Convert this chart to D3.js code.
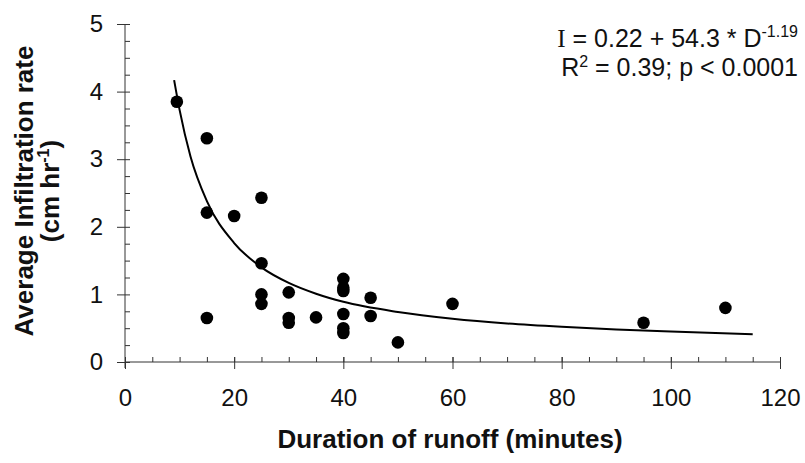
<!DOCTYPE html>
<html lang="en">
<head>
  <meta charset="utf-8">
  <title>Infiltration rate vs duration of runoff</title>
  <script src="https://d3js.org/d3.v7.min.js"></script>
  <style>
    body {
      margin: 0;
      padding: 0;
      background: #fff;
    }
    svg {
      display: block;
      font-family: "Liberation Sans", Arial, Helvetica, sans-serif;
    }
    .tick-label {
      font-size: 24px;
      fill: #111;
    }
    .axis-title {
      font-size: 26px;
      font-weight: bold;
      fill: #111;
    }
    .equation {
      font-size: 25px;
      fill: #111;
    }
  </style>
</head>
<body>
  <div id="chart"></div>
  <script>
    // Observed runoff events (duration in minutes, infiltration in cm/hr)
    const durations = [9.5, 15, 15, 15, 20, 25, 25, 25, 25, 30, 30, 30, 35, 40, 40, 40, 40, 40, 40, 45, 45, 50, 60, 95, 110];
    const rates     = [3.85, 3.31, 2.21, 0.65, 2.16, 2.43, 1.46, 1.00, 0.86, 1.03, 0.65, 0.58, 0.66, 1.23, 1.10, 1.05, 0.71, 0.50, 0.43, 0.95, 0.68, 0.29, 0.86, 0.58, 0.80];

    // Fitted curve
    const fitDurations = [9, 10, 12, 15, 20, 25, 30, 35, 40, 50, 60, 70, 80, 90, 100, 115];
    const fitRates     = [4.17, 3.73, 3.04, 2.38, 1.76, 1.40, 1.17, 1.01, 0.89, 0.74, 0.64, 0.57, 0.52, 0.48, 0.45, 0.41];

    // Axis ticks
    const xMajor = [0, 20, 40, 60, 80, 100, 120];
    const xMinor = d3.range(0, 121, 5);
    const yMajor = [0, 1, 2, 3, 4, 5];
    const yMinor = d3.range(0, 5.01, 0.25);

    const width = 805, height = 463;
    const margin = { top: 24, right: 25, bottom: 101, left: 125 };

    const svg = d3.select("#chart")
      .append("svg")
      .attr("width", width)
      .attr("height", height);

    svg.append("rect")
      .attr("width", width)
      .attr("height", height)
      .attr("fill", "#fff");

    const x = d3.scaleLinear()
      .domain([0, 120])
      .range([margin.left, width - margin.right]);

    const y = d3.scaleLinear()
      .domain([0, 5])
      .range([height - margin.bottom, margin.top]);

    const axisColor = "#333";

    // X axis: minor ticks point up, major ticks cross the line
    svg.append("g")
      .attr("transform", `translate(0,${y(0)})`)
      .call(d3.axisTop(x).tickValues(xMinor).tickSize(5).tickFormat(""))
      .call(g => g.select(".domain").remove())
      .selectAll("line").attr("stroke", axisColor);

    const xAxis = svg.append("g")
      .attr("transform", `translate(0,${y(0)})`)
      .call(d3.axisBottom(x).tickValues(xMajor).tickSize(7).tickPadding(20).tickFormat(d3.format("d")));
    xAxis.select(".domain").attr("stroke", axisColor).attr("d", `M${x(0)},0H${x(120)}`);
    xAxis.selectAll(".tick line").attr("y1", -5).attr("stroke", axisColor);
    xAxis.selectAll(".tick text")
      .attr("class", "tick-label")
      .attr("font-family", null)
      .attr("font-size", null);

    // Y axis: minor ticks point right, major ticks point left
    svg.append("g")
      .attr("transform", `translate(${x(0)},0)`)
      .call(d3.axisRight(y).tickValues(yMinor).tickSize(5).tickFormat(""))
      .call(g => g.select(".domain").remove())
      .selectAll("line").attr("stroke", axisColor);

    const yAxis = svg.append("g")
      .attr("transform", `translate(${x(0)},0)`)
      .call(d3.axisLeft(y).tickValues(yMajor).tickSize(8).tickPadding(14).tickFormat(d3.format("d")));
    yAxis.select(".domain").attr("stroke", axisColor).attr("d", `M0,${y(0) + 6}V${y(5)}`);
    yAxis.selectAll(".tick line").attr("stroke", axisColor);
    yAxis.selectAll(".tick text")
      .attr("class", "tick-label")
      .attr("font-family", null)
      .attr("font-size", null);

    // Fitted curve
    const line = d3.line()
      .x(d => x(d[0]))
      .y(d => y(d[1]))
      .curve(d3.curveMonotoneX);

    svg.append("path")
      .datum(d3.zip(fitDurations, fitRates))
      .attr("fill", "none")
      .attr("stroke", "#000")
      .attr("stroke-width", 2)
      .attr("d", line);

    // Observations
    svg.append("g")
      .selectAll("circle")
      .data(d3.zip(durations, rates))
      .join("circle")
      .attr("cx", d => x(d[0]))
      .attr("cy", d => y(d[1]))
      .attr("r", 6.3)
      .attr("fill", "#000");

    // Axis titles
    svg.append("text")
      .attr("class", "axis-title")
      .attr("x", 450)
      .attr("y", 448)
      .attr("text-anchor", "middle")
      .text("Duration of runoff (minutes)");

    const yTitle = svg.append("g")
      .attr("transform", "translate(0,191) rotate(-90)");
    yTitle.append("text")
      .attr("class", "axis-title")
      .attr("x", 0)
      .attr("y", 33)
      .attr("text-anchor", "middle")
      .text("Average Infiltration rate");
    const yTitle2 = yTitle.append("text")
      .attr("class", "axis-title")
      .attr("x", 0)
      .attr("y", 59)
      .attr("text-anchor", "middle");
    yTitle2.append("tspan").text("(cm hr");
    yTitle2.append("tspan").attr("dy", -10).attr("font-size", "16px").text("-1");
    yTitle2.append("tspan").attr("dy", 10).text(")");

    // Regression equation
    const eq1 = svg.append("text")
      .attr("class", "equation")
      .attr("x", 798)
      .attr("y", 47)
      .attr("text-anchor", "end");
    eq1.append("tspan").attr("font-family", "'Liberation Serif', 'Times New Roman', serif").text("I");
    eq1.append("tspan").text(" = 0.22 + 54.3 * D");
    eq1.append("tspan").attr("dy", -10).attr("font-size", "16px").text("-1.19");

    const eq2 = svg.append("text")
      .attr("class", "equation")
      .attr("x", 798)
      .attr("y", 76)
      .attr("text-anchor", "end");
    eq2.append("tspan").text("R");
    eq2.append("tspan").attr("dy", -9).attr("font-size", "16px").text("2");
    eq2.append("tspan").attr("dy", 9).text(" = 0.39; p < 0.0001");
  </script>
</body>
</html>
